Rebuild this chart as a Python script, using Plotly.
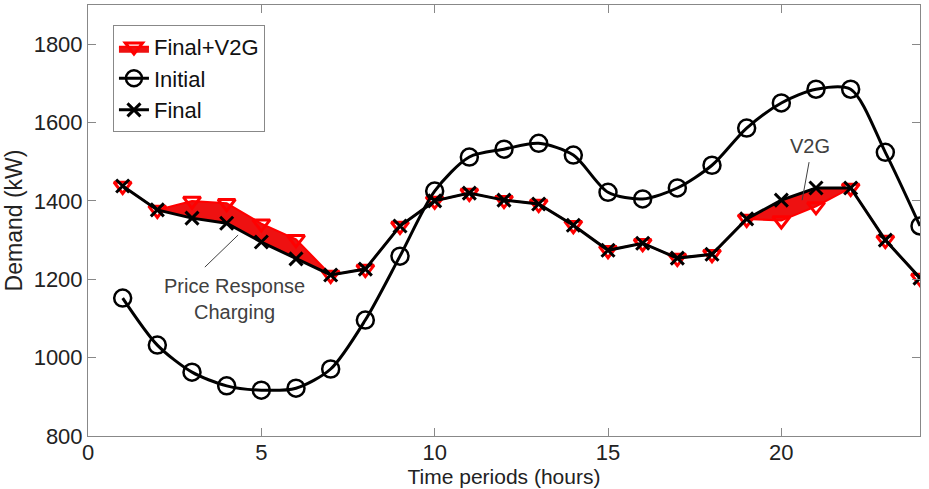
import plotly.graph_objects as go

hours = list(range(1, 25))
initial = [1152, 1032, 963, 928, 917, 922, 971, 1096, 1259, 1425, 1512, 1532,
           1547, 1517, 1422, 1405, 1433, 1491, 1586, 1650, 1685, 1685, 1524, 1336]
final = [1438, 1377, 1356, 1343, 1295, 1252, 1211, 1226, 1336, 1400, 1420, 1402,
         1392, 1338, 1274, 1292, 1254, 1264, 1354, 1402, 1433, 1433, 1300, 1203]
final_v2g = [1438, 1377, 1400, 1394, 1342, 1302, 1211, 1226, 1336, 1400, 1420, 1402,
             1392, 1338, 1274, 1292, 1254, 1264, 1354, 1350, 1386, 1433, 1300, 1203]

x_ticks = [0, 5, 10, 15, 20]
y_ticks = [800, 1000, 1200, 1400, 1600, 1800]

FONT = "Liberation Sans, Arial, sans-serif"

fig = go.Figure()
# base for the fill
fig.add_trace(go.Scatter(x=hours, y=final, mode="lines", line=dict(width=0, color="rgba(0,0,0,0)"),
                         showlegend=False, hoverinfo="skip"))
fig.add_trace(go.Scatter(x=hours, y=final_v2g, mode="lines+markers", name="Final+V2G",
                         fill="tonexty", fillcolor="#ee1111",
                         line=dict(color="#ff0000", width=2),
                         marker=dict(symbol="triangle-down-open", size=15, color="#ff0000",
                                     line=dict(width=3, color="#ff0000"))))
fig.add_trace(go.Scatter(x=hours, y=initial, mode="lines+markers", name="Initial",
                         line=dict(color="black", width=3, shape="spline", smoothing=0.8),
                         marker=dict(symbol="circle-open", size=17, color="black",
                                     line=dict(width=2.5, color="black"))))
fig.add_trace(go.Scatter(x=hours, y=final, mode="lines+markers", name="Final",
                         line=dict(color="black", width=3),
                         marker=dict(symbol="x-thin-open", size=13, color="black",
                                     line=dict(width=3, color="black"))))

# annotation lines
fig.add_shape(type="line", x0=3.37, y0=1231, x1=4.33, y1=1313, line=dict(color="#404040", width=1))
fig.add_shape(type="line", x0=20.8, y0=1499, x1=20.6, y1=1402, line=dict(color="#404040", width=1))
fig.add_annotation(x=4.24, y=1150, text="Price Response<br>Charging", showarrow=False,
                   font=dict(family=FONT, size=20, color="#404040"))
fig.add_annotation(x=20.83, y=1540, text="V2G", showarrow=False,
                   font=dict(family=FONT, size=20, color="#404040"))

axis_common = dict(showline=True, linecolor="#888888", linewidth=1, mirror="ticks",
                   ticks="inside", ticklen=8, tickcolor="#888888", showgrid=False, zeroline=False,
                   tickfont=dict(family=FONT, size=22, color="#222222"))

fig.update_layout(
    width=929, height=489,
    margin=dict(l=88, r=9, t=5, b=53),
    paper_bgcolor="white", plot_bgcolor="white",
    font=dict(family=FONT, color="#222222"),
    xaxis=dict(range=[0, 24], tickvals=x_ticks, ticklabelstandoff=-3,
               title=dict(text="Time periods (hours)", font=dict(family=FONT, size=21), standoff=0),
               **axis_common),
    yaxis=dict(range=[800, 1900], tickvals=y_ticks,
               title=dict(text="Demand (kW)", font=dict(family=FONT, size=23), standoff=4),
               **axis_common),
    legend=dict(x=0.03, y=0.954, xanchor="left", yanchor="top", bgcolor="white",
                bordercolor="#888888", borderwidth=1, traceorder="normal",
                font=dict(family=FONT, size=22, color="#111111"),
                tracegroupgap=0, itemwidth=30),
    showlegend=True,
)

fig.write_html("out.html")
